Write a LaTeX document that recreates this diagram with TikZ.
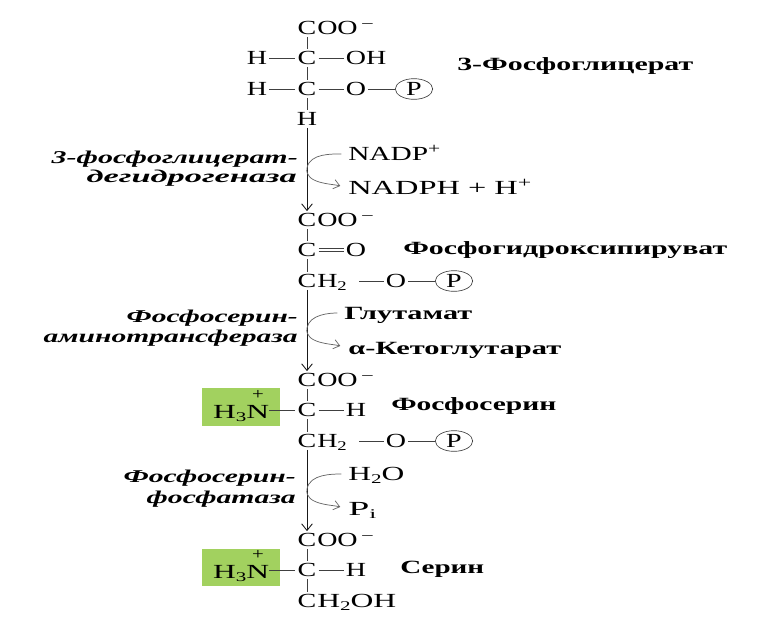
\documentclass[tikz,border=0pt]{standalone}
\usepackage{fontspec}
\usepackage{graphicx}
\setmainfont{Liberation Serif}
\usetikzlibrary{arrows.meta,shapes.geometric}
\definecolor{aminogreen}{HTML}{A2D15F}
\newdimen\pxu \pxu=0.75pt
\newcommand{\fw}[2]{\resizebox{#1\pxu}{\height}{#2}}
\newcommand{\xs}[1]{\scalebox{1.4}[1]{#1}}
\newcommand{\lowsub}[1]{\raisebox{-2.5pt}{\fontsize{10}{10}\selectfont #1}}
\newcommand{\hisup}[1]{\raisebox{5.5pt}{\fontsize{11}{11}\selectfont #1}}
\tikzset{
  chem/.style={inner sep=1.5pt,text height=9.9pt,text depth=0pt,font=\fontsize{15}{16}\selectfont,anchor=center},
  rest/.style={chem,inner sep=0pt,anchor=west},
  reagent/.style={chem,inner sep=0pt,anchor=west},
  reagentb/.style={reagent,font=\fontsize{14}{16}\selectfont\bfseries},
  plusmark/.style={inner sep=0pt,text height=5pt,text depth=0pt,font=\fontsize{12}{12}\selectfont},
  title/.style={inner sep=0pt,text height=8pt,text depth=0pt,font=\fontsize{14}{16}\selectfont\bfseries,anchor=west},
  enz/.style={inner sep=0pt,text height=8pt,text depth=0pt,font=\fontsize{13.5}{16}\selectfont\bfseries\itshape,anchor=east},
  bond/.style={draw=black!75,line width=0.7pt},
  main/.style={draw=black!90,line width=0.65pt,-{Straight Barb[length=5pt,width=8pt]}},
  side/.style={draw=black!60,line width=0.55pt,shorten <=5pt,shorten >=6pt,-{Straight Barb[length=4.5pt,width=7pt]}},
  sidebox/.style={fill=aminogreen,inner sep=0pt,minimum width=58.5pt,minimum height=28pt},
  phos/.style={draw=black!75,ellipse,line width=0.5pt,minimum width=28pt,minimum height=15.5pt,inner sep=0pt,font=\fontsize{15}{16}\selectfont}
}
\begin{document}
\begin{tikzpicture}[x=0.75pt,y=-0.75pt]
\useasboundingbox (0,0) rectangle (763,629);
% 3-phosphoglycerate
\node[chem] (a0) at (307,28) {\xs{C}};
\node[rest] (a0r) at (317,28) {\xs{OO\,\hisup{–}}};
\node[chem] (a1) at (307,58) {\xs{C}};
\node[chem] (a1h) at (257,58) {\xs{H}};
\node[chem] (a1o) at (366,58) {\xs{OH}};
\node[chem] (a2) at (307,89) {\xs{C}};
\node[chem] (a2h) at (257,89) {\xs{H}};
\node[chem] (a2o) at (356,89) {\xs{O}};
\node[phos] (a2p) at (414,89) {\xs{P}};
\node[chem] (a3) at (307,119) {\xs{H}};
\draw[bond] (a0)--(a1); \draw[bond] (a1)--(a2); \draw[bond] (a2)--(a3);
\draw[bond] (a1h)--(a1); \draw[bond] (a1)--(a1o);
\draw[bond] (a2h)--(a2); \draw[bond] (a2)--(a2o); \draw[bond] (a2o)--(a2p);
\node[title] (t1) at (457,65) {\fw{236}{3-Фосфоглицерат}};
% step 1
\node[reagent] (nadp) at (348,154) {\fw{92}{NADP\hisup{+}}};
\node[reagent] (nadph) at (348,188) {\fw{183}{NADPH + H\hisup{+}}};
\node[enz] (e1a) at (298,158) {\fw{246}{3-фосфоглицерат-}};
\node[enz] (e1b) at (297,177) {\fw{210}{дегидрогеназа}};
% phosphohydroxypyruvate
\node[chem] (b0) at (307,220) {\xs{C}};
\node[rest] (b0r) at (317,220) {\xs{OO\,\hisup{–}}};
\node[chem] (b1) at (307,250) {\xs{C}};
\node[chem] (b1o) at (356,250) {\xs{O}};
\node[chem] (b2) at (307,281) {\xs{C}};
\node[rest] (b2r) at (317,281) {\xs{H\lowsub{2}}};
\node[chem] (b2o) at (396,281) {\xs{O}};
\node[phos] (b2p) at (454,281) {\xs{P}};
\draw[bond] (b0)--(b1); \draw[bond] (b1)--(b2);
\draw[bond] ([yshift=1.4pt]b1.east)--([yshift=1.4pt]b1o.west);
\draw[bond] ([yshift=-1.4pt]b1.east)--([yshift=-1.4pt]b1o.west);
\draw[bond,shorten <=9pt] (b2r)--(b2o); \draw[bond] (b2o)--(b2p);
\node[title] (t2) at (403,249) {\fw{324}{Фосфогидроксипируват}};
\coordinate (m1) at (307,168);
\draw[main] (a3)--(b0);
\draw[side] (nadp.west) to[out=180,in=80,looseness=0.9] (m1) to[out=-100,in=165,looseness=0.9] (nadph.west);
% step 2
\node[reagentb] (glu) at (344,313) {\fw{128}{Глутамат}};
\node[reagentb] (keto) at (348,348) {\fw{213}{α-Кетоглутарат}};
\node[enz] (e2a) at (298,317) {\fw{171}{Фосфосерин-}};
\node[enz] (e2b) at (298,337) {\fw{254}{аминотрансфераза}};
% phosphoserine
\node[sidebox] (g1) at (241,407) {};
\node[chem] (c0) at (307,380) {\xs{C}};
\node[rest] (c0r) at (317,380) {\xs{OO\,\hisup{–}}};
\node[chem] (c1) at (307,410) {\xs{C}};
\node[chem,inner sep=0pt] (c1n) at (241,412) {\fw{56}{H\lowsub{3}N}};
\node[plusmark] (c1plus) at (258,396) {\scalebox{1.3}[1]{+}};
\node[chem] (c1h) at (356,410) {\xs{H}};
\node[chem] (c2) at (307,441) {\xs{C}};
\node[rest] (c2r) at (317,441) {\xs{H\lowsub{2}}};
\node[chem] (c2o) at (396,441) {\xs{O}};
\node[phos] (c2p) at (454,441) {\xs{P}};
\draw[bond] (c0)--(c1); \draw[bond] (c1)--(c2);
\draw[bond] (c1n.east|-c1)--(c1); \draw[bond] (c1)--(c1h);
\draw[bond,shorten <=9pt] (c2r)--(c2o); \draw[bond] (c2o)--(c2p);
\node[title] (t3) at (391,405) {\fw{165}{Фосфосерин}};
\coordinate (m2) at (307,328);
\draw[main] (b2)--(c0);
\draw[side] (glu.west) to[out=180,in=80,looseness=0.9] (m2) to[out=-100,in=165,looseness=0.9] (keto.west);
% step 3
\node[reagent] (water) at (348,474) {\fw{56}{H\lowsub{2}O}};
\node[reagent] (pi) at (348,509) {\fw{28}{P\lowsub{i}}};
\node[enz] (e3a) at (296,477) {\fw{172}{Фосфосерин-}};
\node[enz] (e3b) at (296,498) {\fw{149}{фосфатаза}};
% serine
\node[sidebox] (g2) at (241,567.5) {};
\node[chem] (d0) at (307,540) {\xs{C}};
\node[rest] (d0r) at (317,540) {\xs{OO\,\hisup{–}}};
\node[chem] (d1) at (307,570) {\xs{C}};
\node[chem,inner sep=0pt] (d1n) at (241,572) {\fw{56}{H\lowsub{3}N}};
\node[plusmark] (d1plus) at (258,556) {\scalebox{1.3}[1]{+}};
\node[chem] (d1h) at (356,570) {\xs{H}};
\node[chem] (d2) at (307,601) {\xs{C}};
\node[rest] (d2r) at (317,601) {\fw{79}{H\lowsub{2}OH}};
\draw[bond] (d0)--(d1); \draw[bond] (d1)--(d2);
\draw[bond] (d1n.east|-d1)--(d1); \draw[bond] (d1)--(d1h);
\node[title] (t4) at (400,568) {\fw{84}{Серин}};
\coordinate (m3) at (307,489);
\draw[main] (c2)--(d0);
\draw[side] (water.west) to[out=180,in=80,looseness=0.9] (m3) to[out=-100,in=165,looseness=0.9] (pi.west);
\end{tikzpicture}
\end{document}
